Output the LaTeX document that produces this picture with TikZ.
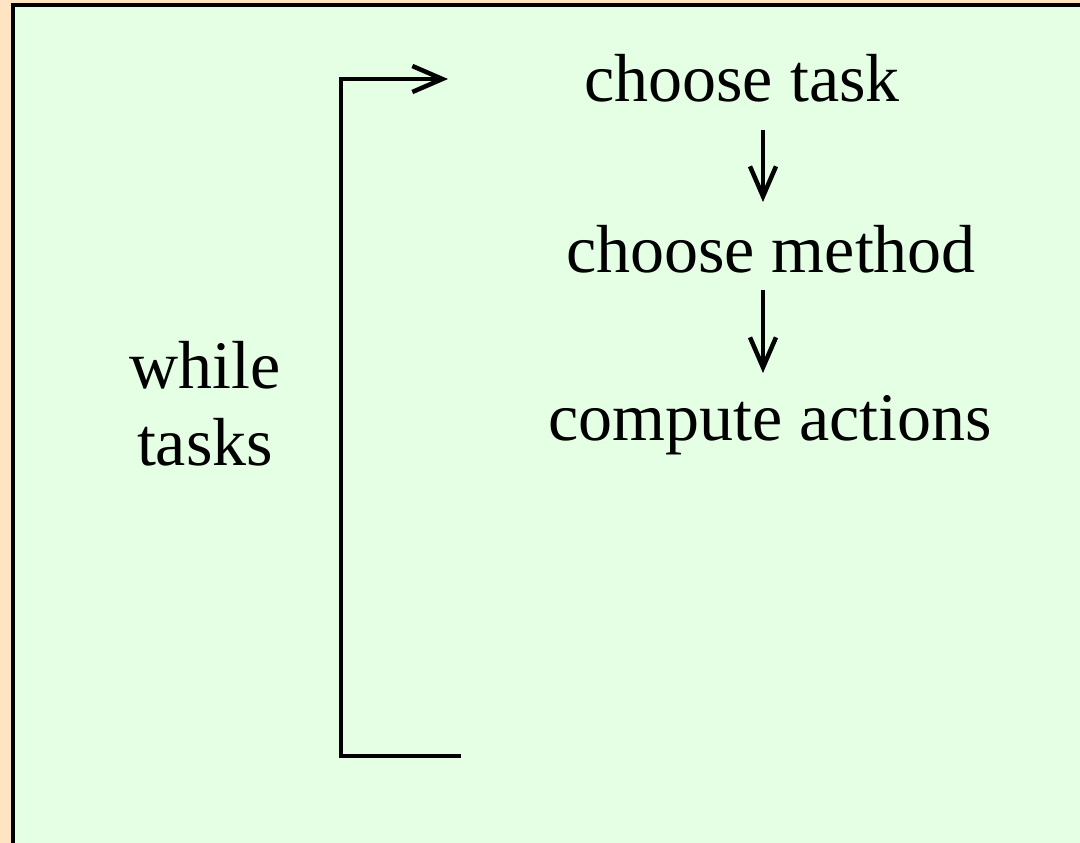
\documentclass[tikz,border=0pt]{standalone}
\usepackage{fontspec}
\setmainfont{Liberation Serif}
\usetikzlibrary{arrows.meta}
\definecolor{pagebg}{RGB}{255,228,196}
\definecolor{panelbg}{RGB}{229,255,229}
\tikzset{
  lbl/.style={inner sep=0pt, anchor=base, font=\fontsize{68}{77}\selectfont},
  flow/.style={line width=4.5pt, -{Straight Barb[length=30pt,width=26pt,line width=4.5pt]}},
  plain/.style={line width=4.5pt}
}
\begin{document}
\begin{tikzpicture}[x=1pt,y=-1pt]
  % page and panel
  \fill[pagebg] (0,0) rectangle (1080,843);
  \useasboundingbox (0,0) rectangle (1080,843);
  \fill[panelbg] (13,5) rectangle (1080,843);
  \draw[plain] (13,845) -- (13,5) -- (1082,5);

  % steps
  \node[lbl] (task) at (742,102) {choose task};
  \node[lbl] (method) at (771,272) {choose method};
  \node[lbl] (actions) at (770,440) {compute actions};
  \node[lbl, align=center] (loop) at (205,465) {while\\tasks};

  % arrows between steps
  \coordinate (a1s) at (763,130);
  \coordinate (a1e) at (763,202);
  \coordinate (a2s) at (763,290);
  \coordinate (a2e) at (763,373);
  \draw[flow] (a1s) -- (a1e);
  \draw[flow] (a2s) -- (a2e);

  % loop bracket
  \coordinate (loopend) at (461,756);
  \coordinate (looptip) at (448,79);
  \draw[flow] (loopend) -- (341,756) |- (looptip);
\end{tikzpicture}
\end{document}
